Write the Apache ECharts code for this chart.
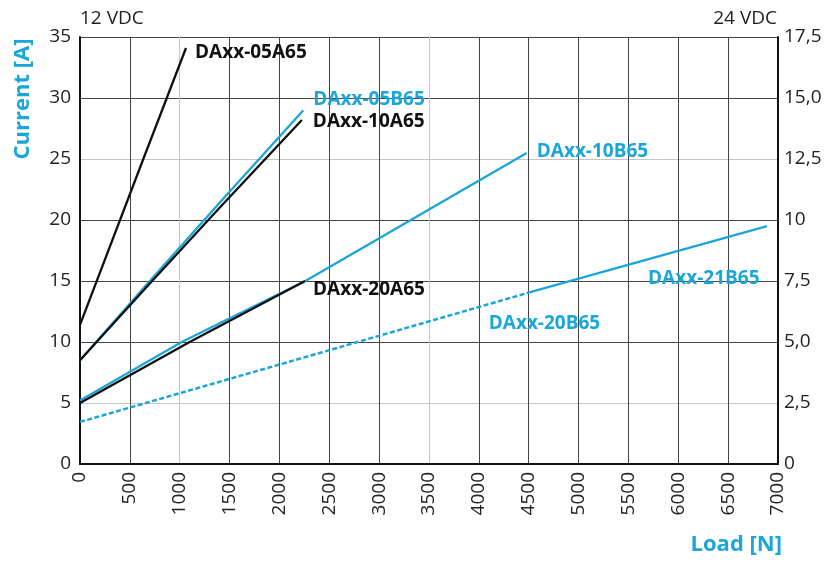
<!DOCTYPE html>
<html>
<head>
<meta charset="utf-8">
<script src="https://cdn.jsdelivr.net/npm/echarts@6/dist/echarts.min.js"></script>
<style>
  html, body { margin: 0; padding: 0; background: #fff; }
  #chart { width: 825px; height: 566px; }
</style>
</head>
<body>
<div id="chart"></div>
<script>
// load [N] vs current [A]
const rightTickLabels = ['0', '2,5', '5,0', '7,5', '10', '12,5', '15,0', '17,5'];

const d05A65 = [[0, 11.4], [635, 25], [1063, 34.1]];
const d05B65 = [[0, 8.5], [700, 15], [1420, 21.6], [2240, 29]];
const d10A65 = [[0, 8.5], [700, 14.8], [1400, 21], [2225, 28.2]];
const d10B65 = [[0, 5.2], [1020, 10], [2260, 15], [4480, 25.5]];
const d20A65 = [[0, 5], [1100, 10], [2257, 15]];
const d20B65 = [[0, 3.45], [2360, 9], [4480, 14]];
const d21B65 = [[4480, 14], [5000, 15.2], [6890, 19.5]];

const BLUE = '#1aa6d9';
const BLACK = '#111';
const FONT = '"Open Sans", "Noto Sans", sans-serif';

function makeSeries(name, pts, color, offset, dashed) {
  let data = pts.map((p, i) => {
    if (i < pts.length - 1) return p;
    return {
      value: p,
      label: {
        show: true,
        formatter: name,
        position: 'right',
        distance: 0,
        offset: offset,
        color: color,
        fontFamily: FONT,
        fontWeight: 'bold',
        fontSize: 19
      }
    };
  });
  return {
    name: name,
    type: 'line',
    data: data,
    showSymbol: true,
    symbol: 'circle',
    symbolSize: 0,
    smooth: false,
    silent: true,
    lineStyle: {
      color: color,
      width: dashed ? 2.5 : 2.3,
      type: dashed ? [5, 2.5] : 'solid'
    },
    itemStyle: { color: color },
    z: color == BLUE ? 3 : 4
  };
}

let chart = echarts.init(document.getElementById('chart'));

let option = {
  animation: false,
  grid: { left: 80, right: 47, top: 37, bottom: 102 },
  xAxis: {
    type: 'value',
    min: 0,
    max: 7000,
    interval: 500,
    axisLine: { show: true, onZero: false, lineStyle: { color: '#111', width: 2 } },
    axisTick: { show: false },
    axisLabel: {
      rotate: 90,
      margin: 8,
      fontSize: 19,
      fontFamily: FONT,
      color: '#222',
      formatter: (v) => String(v)
    },
    splitLine: {
      show: true,
      lineStyle: {
        color: ['#444', '#444', '#c4c4c4', '#444', '#444', '#444', '#444', '#c4c4c4',
                '#444', '#444', '#444', '#444', '#444', '#444', '#444'],
        width: 1
      }
    }
  },
  yAxis: [
    {
      type: 'value',
      min: 0,
      max: 35,
      interval: 5,
      position: 'left',
      axisLine: { show: true, lineStyle: { color: '#111', width: 2 } },
      axisTick: { show: false },
      axisLabel: { margin: 9, fontSize: 19, fontFamily: FONT, color: '#222' },
      splitLine: {
        show: true,
        lineStyle: {
          color: ['#444', '#c4c4c4', '#444', '#444', '#444', '#c4c4c4', '#444', '#444'],
          width: 1
        }
      }
    },
    {
      type: 'value',
      min: 0,
      max: 17.5,
      interval: 2.5,
      position: 'right',
      axisLine: { show: true, lineStyle: { color: '#111', width: 2 } },
      axisTick: { show: false },
      axisLabel: {
        margin: 6,
        fontSize: 19,
        fontFamily: FONT,
        color: '#222',
        formatter: (v, i) => rightTickLabels[i]
      },
      splitLine: { show: false }
    }
  ],
  graphic: [
    {
      type: 'text', left: 80, top: 9,
      style: { text: '12 VDC', fontSize: 19, fontFamily: FONT, fill: '#222' }
    },
    {
      type: 'text', right: 48, top: 9,
      style: { text: '24 VDC', fontSize: 19, fontFamily: FONT, fill: '#222' }
    },
    {
      type: 'text', x: 23, y: 99, rotation: Math.PI / 2,
      style: {
        text: 'Current [A]', fontSize: 22, fontWeight: 'bold', fontFamily: FONT,
        fill: BLUE, align: 'center', verticalAlign: 'middle'
      }
    },
    {
      type: 'text', right: 43, top: 534,
      style: { text: 'Load [N]', fontSize: 22, fontWeight: 'bold', fontFamily: FONT, fill: BLUE }
    }
  ],
  series: [
    makeSeries('DAxx-05A65', d05A65, BLACK, [9, 5]),
    makeSeries('DAxx-05B65', d05B65, BLUE, [10, -11]),
    makeSeries('DAxx-10A65', d10A65, BLACK, [11, 2]),
    makeSeries('DAxx-10B65', d10B65, BLUE, [10, -1]),
    makeSeries('DAxx-20A65', d20A65, BLACK, [8, 9]),
    makeSeries('DAxx-20B65', d20B65, BLUE, [-38, 30], true),
    makeSeries('DAxx-21B65', d21B65, BLUE, [-119, 52])
  ]
};

chart.setOption(option);
</script>
</body>
</html>
